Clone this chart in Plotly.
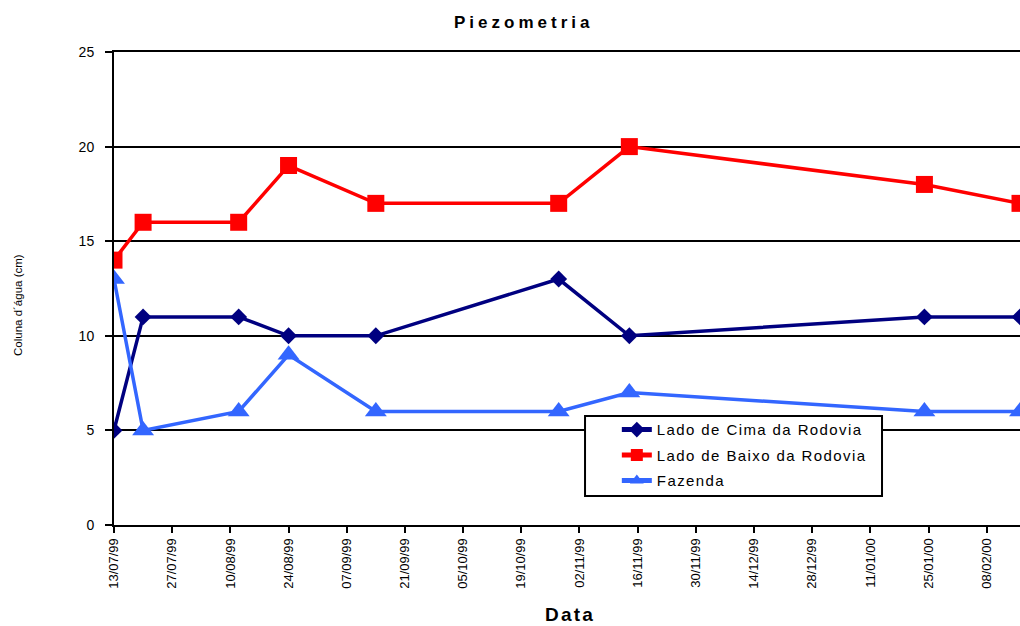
import plotly.graph_objects as go

dates = ["1999-07-13", "1999-07-20", "1999-08-12", "1999-08-24", "1999-09-14",
         "1999-10-28", "1999-11-14", "2000-01-24", "2000-02-16"]
cima = [5, 11, 11, 10, 10, 13, 10, 11, 11]
baixo = [14, 16, 16, 19, 17, 17, 20, 18, 17]
fazenda = [13, 5, 6, 9, 6, 6, 7, 6, 6]

names = ["Lado de Cima da Rodovia", "Lado de Baixo da Rodovia", "Fazenda"]
colors = ["#000080", "#FF0000", "#3366FF"]
symbols = ["diamond", "square", "triangle-up"]
sizes = [13, 17, 19]

font = "Liberation Sans, Arial, sans-serif"

fig = go.Figure()
for i, (ys, n, c, s, sz) in enumerate(zip([cima, baixo, fazenda], names, colors, symbols, sizes)):
    fig.add_trace(go.Scatter(
        x=dates, y=ys, mode="lines+markers", legendgroup=f"g{i}",
        name=f'<span style="letter-spacing:1.4px">{n}</span>',
        line=dict(color=c, width=3.5),
        marker=dict(symbol=s, size=sz, color=c)))

fig.update_layout(
    width=1020, height=626,
    margin=dict(l=114, r=0, t=52, b=101),
    paper_bgcolor="white", plot_bgcolor="white",
    font=dict(family=font, color="black", size=14),
    showlegend=True,
    legend=dict(x=0.555, y=0.236, xanchor="left", yanchor="top",
                bgcolor="rgba(0,0,0,0)", borderwidth=0,
                font=dict(size=15, family=font), itemsizing="constant",
                traceorder="grouped", tracegroupgap=3),
    shapes=[dict(type="rect", xref="paper", yref="paper",
                 x0=0.5199, x1=0.8477, y0=0.0613, y1=0.2304,
                 fillcolor="white", line=dict(color="black", width=2), layer="above")],
    annotations=[
        dict(text='<b><span style="letter-spacing:4px">Piezometria</span></b>',
             xref="paper", yref="paper", x=(523 - 114) / 906, y=(525 - 23) / 473,
             xanchor="center", yanchor="middle", showarrow=False, font=dict(size=17)),
        dict(text='<b><span style="letter-spacing:2.2px">Data</span></b>',
             xref="paper", yref="paper", x=(570 - 114) / 906, y=(525 - 614) / 473,
             xanchor="center", yanchor="middle", showarrow=False, font=dict(size=19)),
        dict(text="Coluna d´água (cm)", textangle=-90,
             xref="paper", yref="paper", x=(18 - 114) / 906, y=(525 - 305) / 473,
             xanchor="center", yanchor="middle", showarrow=False, font=dict(size=11.5)),
    ],
)
fig.update_xaxes(
    type="date", range=[dates[0], dates[-1]], automargin=False,
    tick0=dates[0], dtick=14 * 86400000, tickformat="%d/%m/%y",
    tickangle=-90, tickfont=dict(size=13),
    ticks="outside", ticklen=6, tickwidth=2, tickcolor="black",
    showline=True, linecolor="black", linewidth=2, mirror=True,
    showgrid=False, zeroline=False,
)
fig.update_yaxes(
    range=[0, 25], dtick=5, tickfont=dict(size=14), automargin=False,
    ticks="outside", ticklen=7, tickwidth=2, tickcolor="black", ticklabelstandoff=8,
    showline=True, linecolor="black", linewidth=2,
    showgrid=True, gridcolor="black", gridwidth=1.5, zeroline=False,
)
fig.write_html("out.html", config={"responsive": False, "displayModeBar": False},
               post_script="document.body.style.margin='0px';document.body.style.overflow='hidden';")
